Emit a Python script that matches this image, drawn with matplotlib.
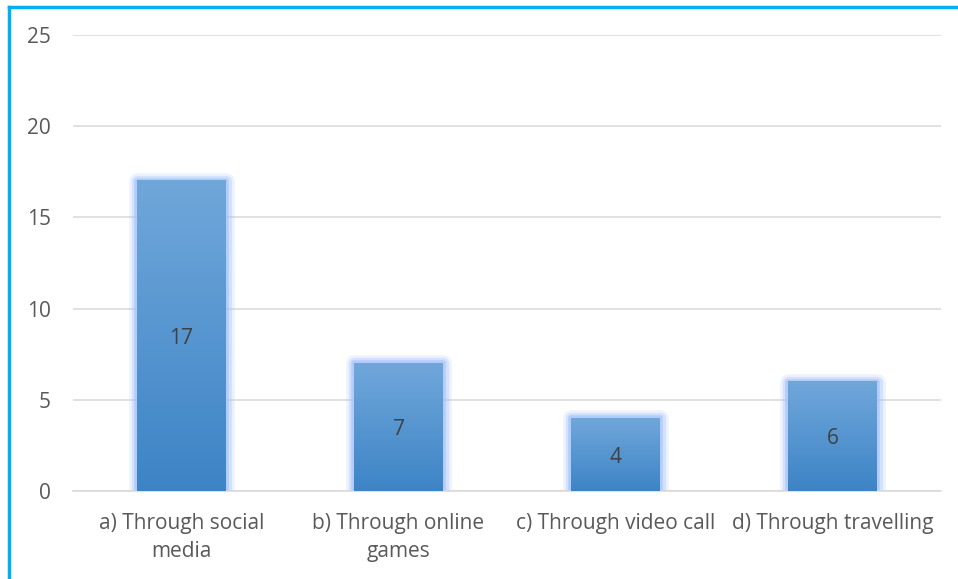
import matplotlib.pyplot as plt
import numpy as np
from matplotlib.lines import Line2D
from matplotlib.colors import LinearSegmentedColormap

categories = ["a) Through social\nmedia", "b) Through online\ngames",
              "c) Through video call", "d) Through travelling"]
values = [17, 7, 4, 6]
yticks = [0, 5, 10, 15, 20, 25]

plt.rcParams['font.family'] = ['Open Sans', 'DejaVu Sans']

fig = plt.figure(figsize=(9.58, 5.79), dpi=100)
ax = fig.add_axes([73 / 958, 1 - 491 / 579, 868 / 958, 456 / 579])

x = np.arange(len(categories))
width = 0.41

# gradient for the bar fill
grad = np.linspace(0, 1, 256).reshape(-1, 1)
cmap = LinearSegmentedColormap.from_list("barfill", ["#3d84c6", "#70a7da"])

for xi, v in zip(x, values):
    # soft glow around the bar
    for lw, a in [(12, 0.2), (8, 0.35), (4, 0.65)]:
        ax.bar(xi, v, width, color='none', edgecolor='#a4c2fb', linewidth=lw,
               alpha=a, joinstyle='round', zorder=2)
    ax.imshow(grad, cmap=cmap, origin='lower', aspect='auto',
              extent=(xi - width / 2, xi + width / 2, 0, v), zorder=3)
    ax.text(xi, v / 2, str(v), ha='center', va='center_baseline', fontsize=15,
            color='#404040', zorder=4)

ax.set_xlim(-0.5, len(categories) - 0.5)
ax.set_ylim(0, 25)
ax.set_yticks(yticks)
ax.set_xticks(x)
ax.set_xticklabels(categories, fontsize=15, color='#595959', linespacing=1.42)
ax.tick_params(axis='y', labelsize=15, labelcolor='#595959', length=0, pad=16)
ax.tick_params(axis='x', length=0, pad=16)
ax.grid(axis='y', color='#d9d9d9', linewidth=1.1, zorder=0)
ax.set_axisbelow(True)
for s in ['top', 'right', 'left']:
    ax.spines[s].set_visible(False)
ax.spines['bottom'].set_color('#d9d9d9')
ax.spines['bottom'].set_linewidth(1.1)

# cyan frame on top and left
fig.add_artist(Line2D([9 / 958, 1], [1 - 7 / 579, 1 - 7 / 579], color='#00b0f0',
                      linewidth=2.5, transform=fig.transFigure))
fig.add_artist(Line2D([9 / 958, 9 / 958], [0, 1 - 7 / 579], color='#00b0f0',
                      linewidth=2.5, transform=fig.transFigure))

fig.savefig('out.png', dpi=100)
